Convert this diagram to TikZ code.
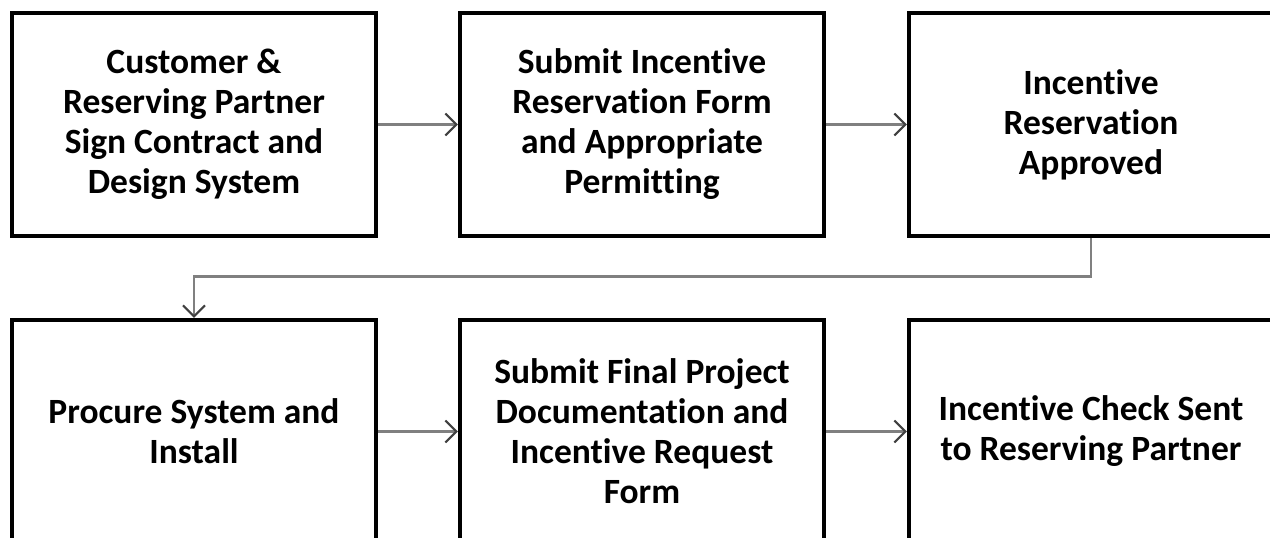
\documentclass[tikz,border=0pt]{standalone}
\usepackage{fontspec}
\setmainfont{Carlito}[Ligatures={NoCommon,NoRequired,NoContextual}]
\usetikzlibrary{arrows.meta}
\begin{document}
\begin{tikzpicture}[x=1pt,y=-1pt,
  stepbox/.style={draw=black, line width=4.5pt, minimum width=364pt, minimum height=223pt,
    inner sep=0pt, align=center, font=\fontsize{35.5}{40}\selectfont\bfseries},
  flow/.style={draw=gray, line width=2.5pt,
    -{Straight Barb[length=11pt, width=22pt, line width=2pt, color=gray!50!black]}}
]
\useasboundingbox (0,0) rectangle (1270,538);
\node[stepbox] (b1) at (194,124.5) {Customer \&\\Reserving Partner\\Sign Contract and\\Design System};
\node[stepbox] (b2) at (642,124.5) {Submit Incentive\\Reservation Form\\and Appropriate\\Permitting};
\node[stepbox] (b3) at (1091,124.5) {Incentive\\Reservation\\Approved};
\node[stepbox] (b4) at (194,431.5) {Procure System and\\Install};
\node[stepbox] (b5) at (642,431.5) {Submit Final Project\\Documentation and\\Incentive Request\\Form};
\node[stepbox] (b6) at (1091,431.5) {Incentive Check Sent\\to Reserving Partner};
\draw[flow] (b1) -- (b2);
\draw[flow] (b2) -- (b3);
\draw[flow] (b3.south) -- ++(0,38) -| (b4.north);
\draw[flow] (b4) -- (b5);
\draw[flow] (b5) -- (b6);
\end{tikzpicture}
\end{document}
